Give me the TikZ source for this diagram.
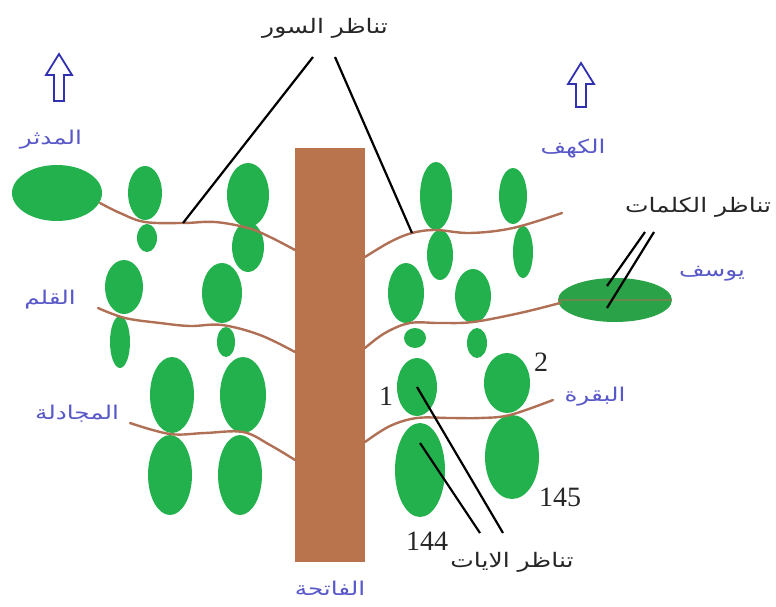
\documentclass[tikz,border=0pt]{standalone}
\usepackage{fontspec}
\setmainfont{Liberation Serif}
\newfontfamily\arabicfont[Script=Arabic]{DejaVu Sans}
\TeXXeTstate=1
\usetikzlibrary{shapes.geometric}
\definecolor{leafgreen}{RGB}{34,177,76}
\definecolor{leafdark}{RGB}{42,162,72}
\definecolor{trunkbrown}{RGB}{185,116,78}
\definecolor{branchbrown}{RGB}{176,112,86}
\definecolor{suralabel}{RGB}{88,88,200}
\definecolor{arrowblue}{RGB}{48,48,176}
\tikzset{
  leaf/.style={ellipse, fill=leafgreen, draw=none, inner sep=0pt},
  branch/.style={draw=branchbrown, line width=2.4pt, line cap=round},
  pointer/.style={draw=black, line width=2.2pt},
  sura/.style={text=suralabel, font=\arabicfont\fontsize{19}{21}\selectfont, inner sep=0pt, xscale=1.3},
  note/.style={text=black!85, font=\arabicfont\fontsize{20}{22}\selectfont, inner sep=0pt, xscale=1.25},
  num/.style={text=black!85, font=\fontsize{28}{30}\selectfont, inner sep=0pt},
  uparrow/.style={draw=arrowblue, line width=1.8pt, line join=miter, fill=white}
}
\newcommand{\leafat}[5]{\node[leaf, minimum width=#4pt, minimum height=#5pt] (#1) at (#2,#3) {};}
\begin{document}
\begin{tikzpicture}[x=1pt, y=-1pt]
\useasboundingbox (0,0) rectangle (776,607);

% trunk
\node[fill=trunkbrown, minimum width=70pt, minimum height=414pt, inner sep=0pt] (trunk) at (330,355) {};
\node[sura] (fatiha) at (330,588) {\beginR الفاتحة\endR};

% ---- left side leaves ----
\node[leaf, minimum width=90pt, minimum height=56pt] (muddathir) at (57,193) {};
\leafat{l1a}{145}{193}{34}{54}
\leafat{l1b}{147}{238}{20}{28}
\leafat{l1c}{248}{195}{42}{64}
\leafat{l1d}{248}{247}{32}{50}

\leafat{l2a}{124}{287}{38}{54}
\leafat{l2b}{120}{342}{20}{52}
\leafat{l2c}{222}{293}{40}{60}
\leafat{l2d}{226}{342}{18}{30}

\leafat{l3a}{172}{395}{44}{76}
\leafat{l3b}{170}{475}{44}{80}
\leafat{l3c}{243}{395}{46}{76}
\leafat{l3d}{240}{475}{44}{80}

% ---- right side leaves ----
\leafat{r1a}{436}{196}{32}{68}
\leafat{r1b}{440}{255}{26}{50}
\leafat{r1c}{513}{196}{28}{56}
\leafat{r1d}{523}{252}{20}{52}

\leafat{r2a}{406}{293}{36}{60}
\leafat{r2b}{473}{296}{36}{54}
\leafat{r2c}{415}{338}{22}{20}
\leafat{r2d}{477}{343}{20}{30}
\node[ellipse, fill=leafdark, inner sep=0pt, minimum width=114pt, minimum height=44pt] (yusuf) at (615,300) {};

\leafat{r3a}{417}{387}{40}{58}
\leafat{r3b}{420}{470}{50}{94}
\leafat{r3c}{507}{383}{46}{60}
\leafat{r3d}{512}{457}{54}{84}

% ---- branches ----
\draw[branch] plot[smooth, tension=0.6] coordinates {(100,203) (120,213) (145,222) (183,223) (215,222) (248,228) (270,237) (295,250)};
\draw[branch] plot[smooth, tension=0.6] coordinates {(98,308) (125,318) (160,323) (190,326) (222,325) (260,335) (295,352)};
\draw[branch] plot[smooth, tension=0.6] coordinates {(130,423) (170,434) (205,433) (243,432) (270,445) (295,460)};
\draw[branch] plot[smooth, tension=0.6] coordinates {(365,257) (390,242) (412,233) (436,230) (470,233) (513,228) (562,213)};
\draw[branch] plot[smooth, tension=0.6] coordinates {(365,348) (385,333) (410,323) (440,323) (473,322) (520,313) (560,303)};
\draw[draw=branchbrown, line width=1.2pt, opacity=0.5] (yusuf.west) -- (yusuf.east);
\draw[branch] plot[smooth, tension=0.6] coordinates {(365,442) (390,426) (417,418) (450,418) (480,418) (510,415) (553,400)};

% ---- sura names ----
\node[sura] (lmuddathir) at (51,140) {\beginR المدثر\endR};
\node[sura] (lqalam) at (50,300) {\beginR القلم\endR};
\node[sura] (lmujadila) at (77,414) {\beginR المجادلة\endR};
\node[sura] (lkahf) at (573,149) {\beginR الكهف\endR};
\node[sura] (lyusuf) at (712,274) {\beginR يوسف\endR};
\node[sura] (lbaqara) at (595,397) {\beginR البقرة\endR};

% ---- up arrows ----
\draw[uparrow] (59,54) -- (72,75) -- (64,75) -- (64,101) -- (54,101) -- (54,75) -- (46,75) -- cycle;
\draw[uparrow] (581,63) -- (594,84) -- (586,84) -- (586,107) -- (576,107) -- (576,84) -- (568,84) -- cycle;

% ---- verse numbers ----
\node[num] (n1) at (386,396) {1};
\node[num] (n2) at (541,362) {2};
\node[num] (n145) at (560,497) {145};
\node[num] (n144) at (427,541) {144};

% ---- symmetry notes and pointers ----
\node[note] (suwar) at (325,28) {\beginR تناظر السور\endR};
\coordinate (s1) at (313,57);
\coordinate (s2) at (335,57);
\coordinate (s1e) at (183,223);
\coordinate (s2e) at (412,233);
\draw[pointer] (s1) -- (s1e);
\draw[pointer] (s2) -- (s2e);

\node[note] (kalimat) at (698,207) {\beginR تناظر الكلمات\endR};
\coordinate (k1) at (645,232);
\coordinate (k2) at (654,232);
\coordinate (k1e) at (607,286);
\coordinate (k2e) at (607,308);
\draw[pointer] (k1) -- (k1e);
\draw[pointer] (k2) -- (k2e);

\node[note] (ayat) at (512,562) {\beginR تناظر الايات\endR};
\coordinate (a1) at (503,533);
\coordinate (a2) at (480,533);
\draw[pointer] (a1) -- (r3a.center);
\draw[pointer] (a2) -- ([yshift=27pt]r3b.center);
\end{tikzpicture}
\end{document}
